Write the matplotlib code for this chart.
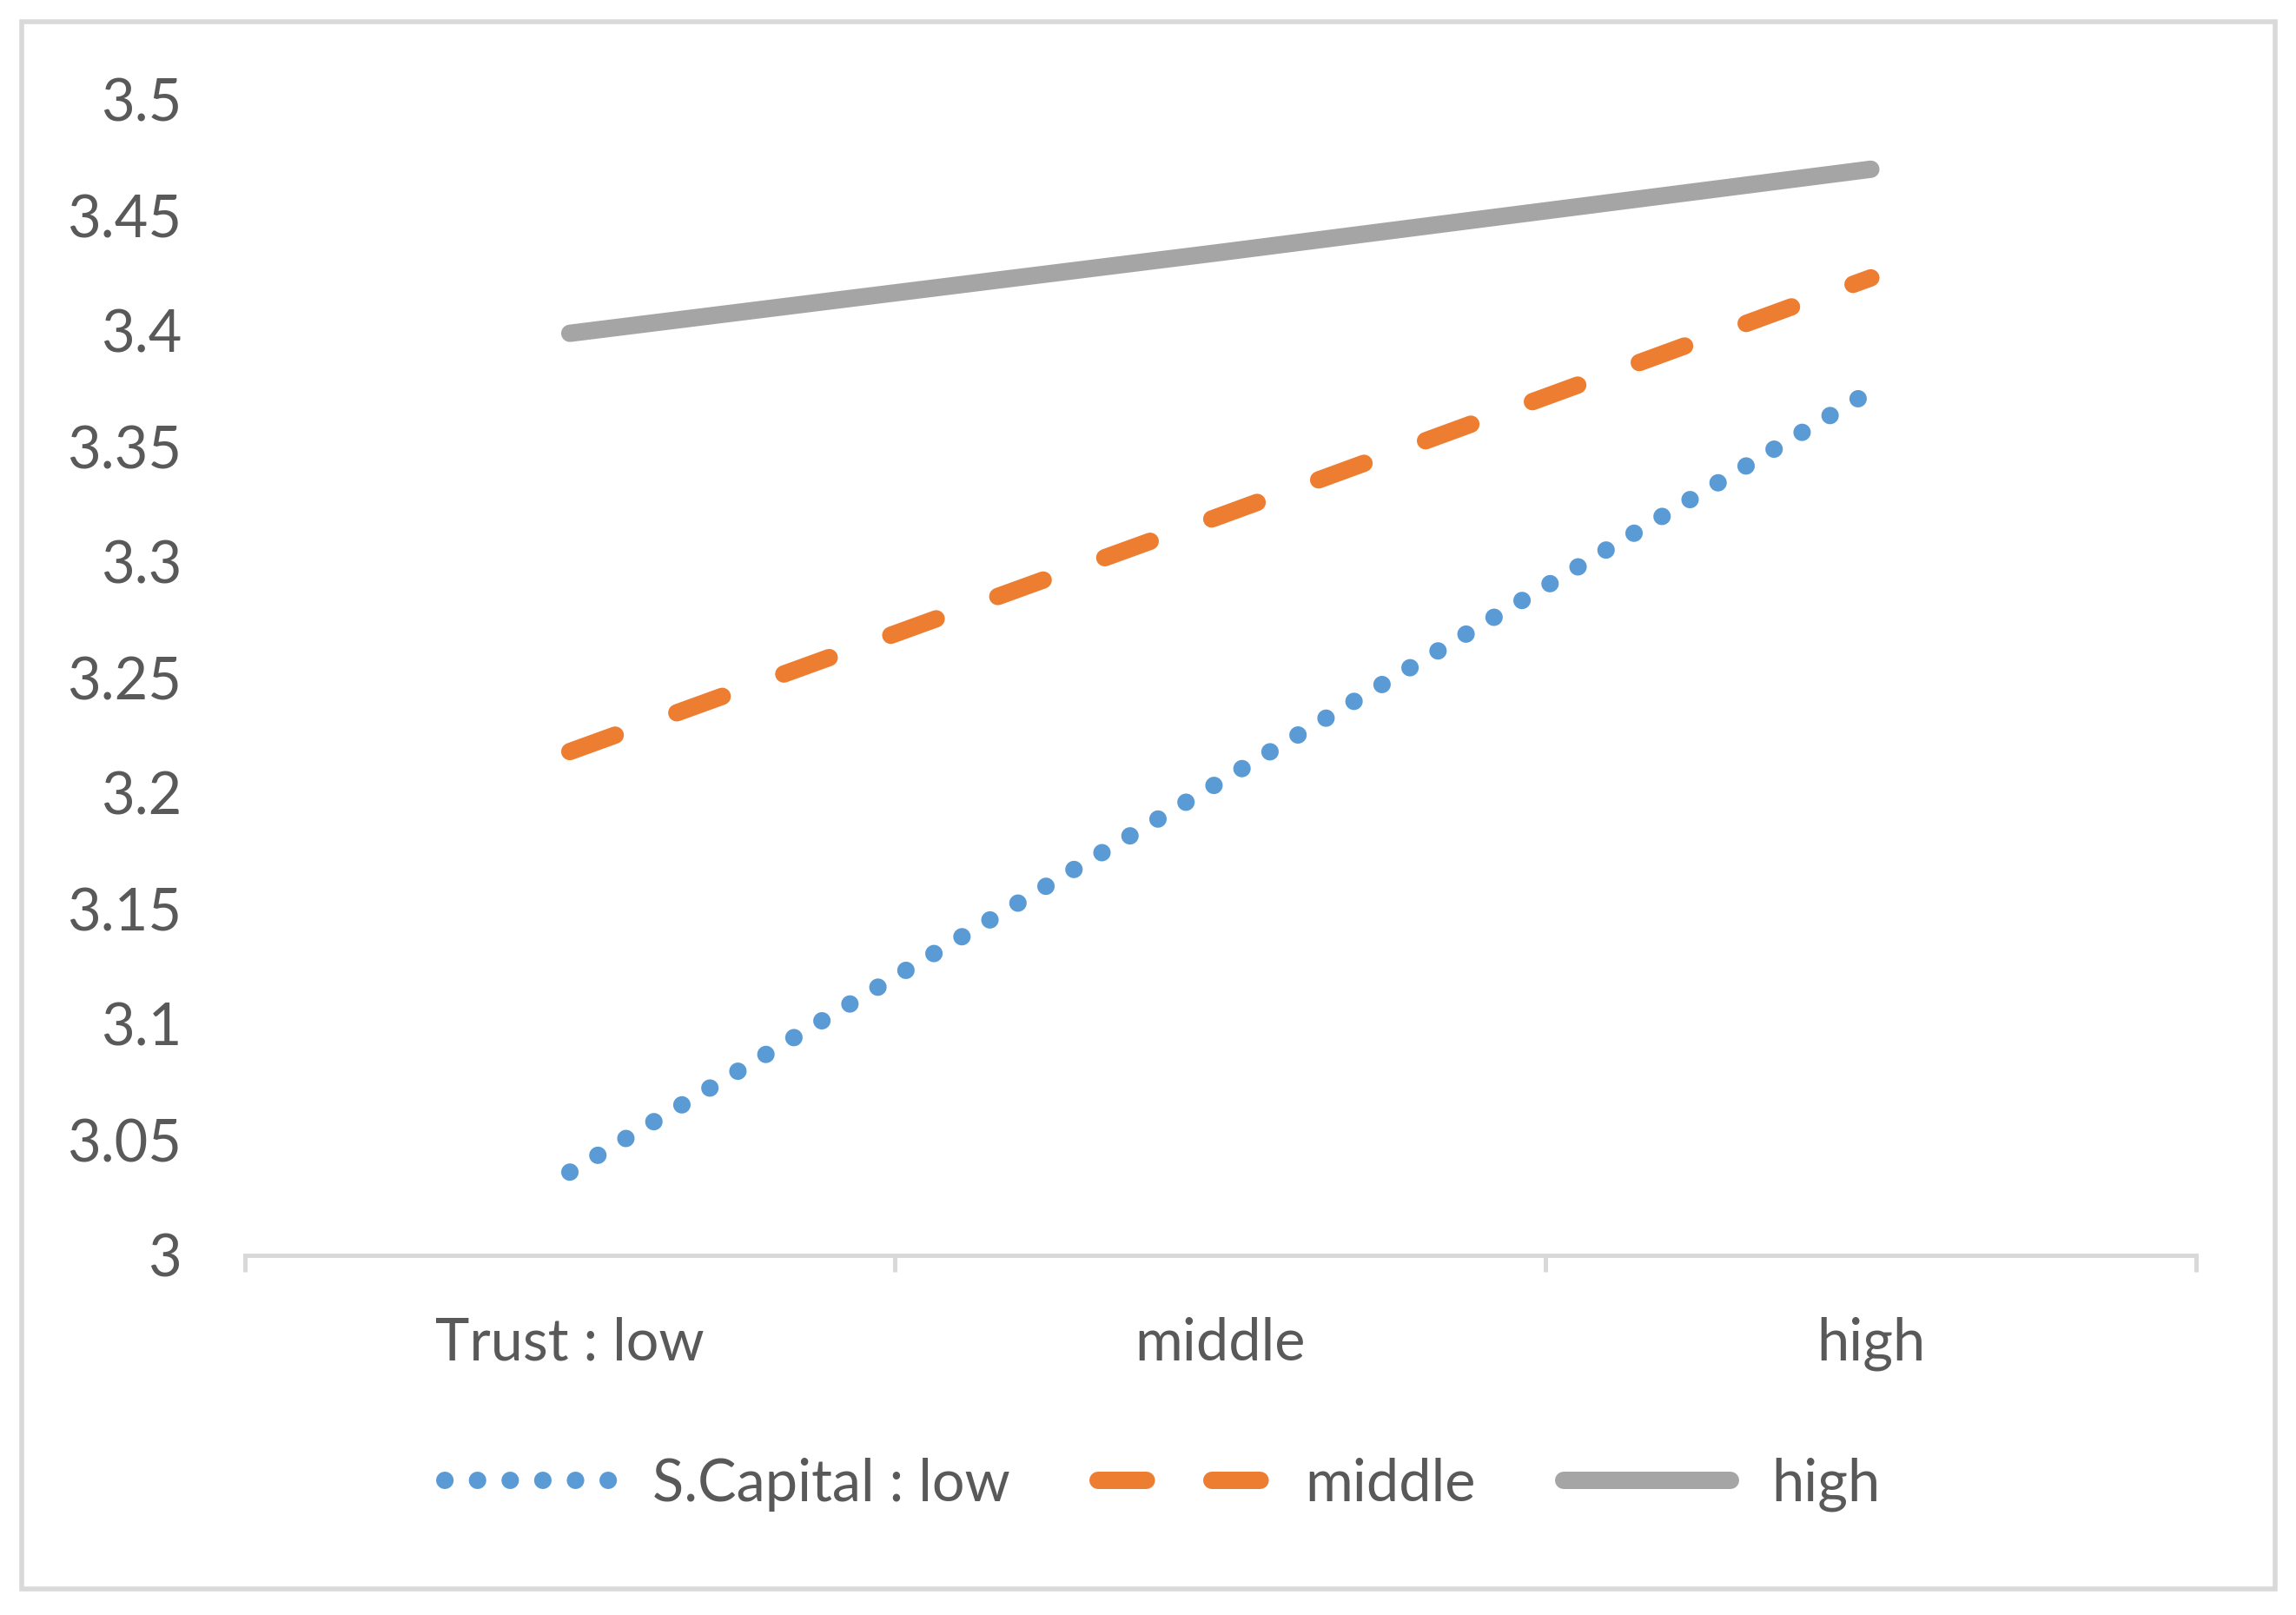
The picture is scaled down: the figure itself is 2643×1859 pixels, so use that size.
import matplotlib
matplotlib.use("Agg")
import matplotlib.pyplot as plt
from matplotlib.patches import Rectangle

categories = ["Trust : low", "middle", "high"]
series_names = ["S.Capital : low", "middle", "high"]
low_values = [3.036, 3.205, 3.374]
middle_values = [3.218, 3.320, 3.423]
high_values = [3.399, 3.434, 3.470]
y_ticks = [3.0, 3.05, 3.1, 3.15, 3.2, 3.25, 3.3, 3.35, 3.4, 3.45, 3.5]
y_tick_labels = ["3", "3.05", "3.1", "3.15", "3.2", "3.25", "3.3", "3.35", "3.4", "3.45", "3.5"]

plt.rcParams['font.family'] = ['Lato', 'DejaVu Sans']
TEXT = "#595959"
GRID = "#D9D9D9"
FS = 48

W, H = 2643, 1859
fig = plt.figure(figsize=(W / 100, H / 100), dpi=100)
ax = fig.add_axes([281.5 / W, 1 - 1445 / H, (2528 - 281.5) / W, (1445 - 115) / H])

x = list(range(len(categories)))
lw = 14.4
l1, = ax.plot(x, low_values, color="#5B9BD5", lw=lw, linestyle=(0, (0.01, 1.87)),
              dash_capstyle="round", solid_capstyle="round", label=series_names[0])
l2, = ax.plot(x, middle_values, color="#ED7D31", lw=lw, linestyle=(0, (2.78, 3.77)),
              dash_capstyle="round", solid_capstyle="round", label=series_names[1])
l3, = ax.plot(x, high_values, color="#A5A5A5", lw=lw, linestyle="-",
              dash_capstyle="round", solid_capstyle="round", label=series_names[2])

ax.set_xlim(-0.5, len(categories) - 0.5)
ax.set_ylim(3.0, 3.5)
ax.set_yticks(y_ticks)
ax.set_yticklabels(y_tick_labels)
ax.set_xticks(x)
ax.set_xticklabels(categories)
ax.set_xticks([-0.5, 0.5, 1.5, 2.5], minor=True)

for s in ["left", "top", "right"]:
    ax.spines[s].set_visible(False)
ax.spines["bottom"].set_color(GRID)
ax.spines["bottom"].set_linewidth(3.6)

ax.tick_params(axis="x", which="major", length=0, pad=51, labelsize=FS, labelcolor=TEXT)
ax.tick_params(axis="x", which="minor", length=13.7, width=3.6, color=GRID, direction="out")
ax.tick_params(axis="y", which="both", length=0, pad=52, labelsize=FS, labelcolor=TEXT)

leg = fig.legend(handles=[l1, l2, l3], loc="center",
                 bbox_to_anchor=(1338 / W, 1 - 1709 / H), ncol=3, frameon=False,
                 fontsize=FS, handlelength=2.88, handletextpad=0.70, columnspacing=1.52,
                 labelcolor=TEXT)

border = Rectangle((25 / W, 1 - 1829 / H), (2619 - 25) / W, (1829 - 25) / H,
                   transform=fig.transFigure, fill=False, edgecolor=GRID, lw=4)
fig.patches.append(border)

fig.savefig("out.png", dpi=100, facecolor="white")
